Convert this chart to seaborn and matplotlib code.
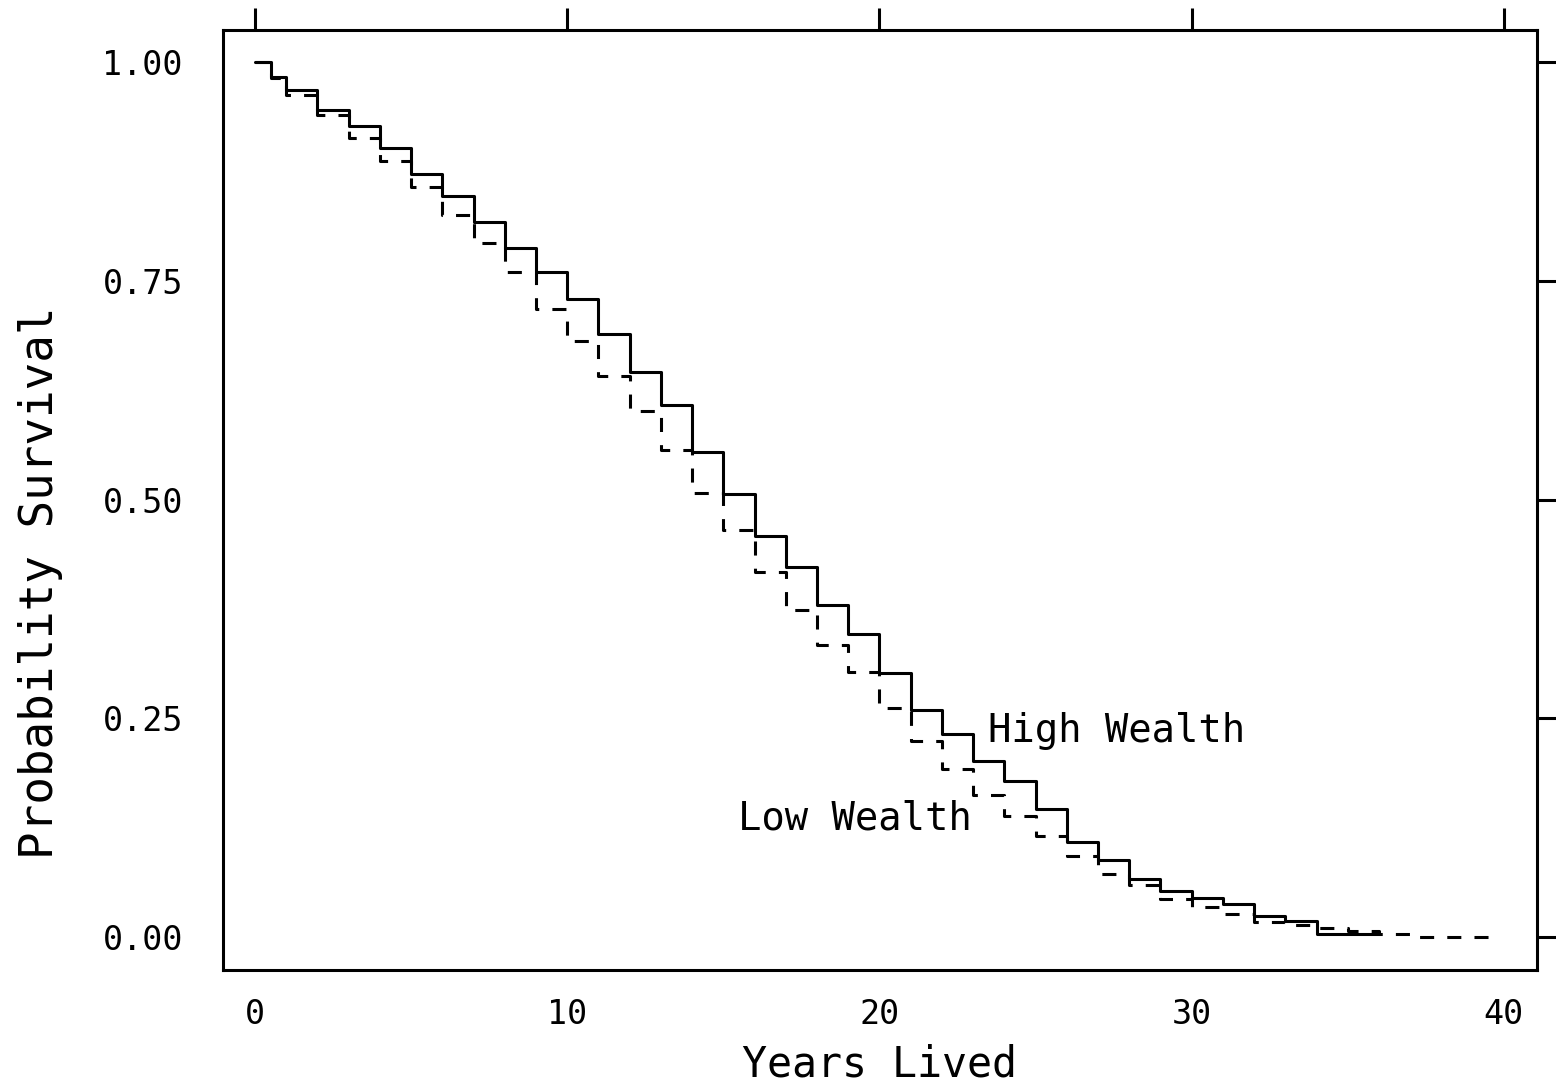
import numpy as np
import pandas as pd
import matplotlib
matplotlib.use("Agg")
import matplotlib.pyplot as plt
import seaborn as sns

# survival step values (value holds from t until the next t)
high_years = [0, 0.5] + list(range(1, 35)) + [36]
high_surv = [1.00, 0.983, 0.968, 0.946, 0.927, 0.902, 0.872, 0.847, 0.818, 0.788,
             0.760, 0.729, 0.690, 0.646, 0.608, 0.555, 0.507, 0.459, 0.423, 0.380,
             0.347, 0.302, 0.260, 0.232, 0.201, 0.178, 0.147, 0.109, 0.088, 0.067,
             0.053, 0.045, 0.038, 0.024, 0.018, 0.004, 0.004]

low_years = [0, 0.5] + list(range(1, 38)) + [39.7]
low_surv = [1.00, 0.982, 0.963, 0.940, 0.914, 0.887, 0.857, 0.826, 0.794, 0.760,
            0.718, 0.682, 0.641, 0.601, 0.557, 0.508, 0.465, 0.417, 0.374, 0.334,
            0.303, 0.262, 0.224, 0.192, 0.162, 0.138, 0.116, 0.093, 0.072, 0.060,
            0.044, 0.035, 0.027, 0.017, 0.014, 0.010, 0.007, 0.004, 0.0005, 0.0005]

x_ticks = [0, 10, 20, 30, 40]
y_ticks = [0.00, 0.25, 0.50, 0.75, 1.00]
y_ticklabels = ["0.00", "0.25", "0.50", "0.75", "1.00"]

high = pd.DataFrame({"years": high_years, "surv": high_surv})
low = pd.DataFrame({"years": low_years, "surv": low_surv})

sns.set_style("white")
plt.rcParams["font.family"] = ["DejaVu Sans Mono", "DejaVu Sans"]
plt.rcParams["text.color"] = "black"
plt.rcParams["axes.labelcolor"] = "black"

fig = plt.figure(figsize=(15.56, 10.87), dpi=100)
ax = fig.add_axes([0.1433, 0.1076, 0.8445, 0.8648])

sns.lineplot(data=high, x="years", y="surv", ax=ax, color="black", lw=2.2,
             drawstyle="steps-post", sort=False, estimator=None)
sns.lineplot(data=low, x="years", y="surv", ax=ax, color="black", lw=2.2,
             drawstyle="steps-post", sort=False, estimator=None,
             linestyle=(0, (4.6, 4.3)))

ax.text(23.47, 0.2235, "High Wealth", fontsize=28, ha="left", va="baseline", color="black")
ax.text(15.47, 0.1226, "Low Wealth", fontsize=28, ha="left", va="baseline", color="black")

ax.set_xlim(-1.025, 41.06)
ax.set_ylim(-0.0375, 1.0369)
ax.set_xticks(x_ticks)
ax.set_xticklabels([str(t) for t in x_ticks])
ax.set_yticks(y_ticks)
ax.set_yticklabels(y_ticklabels)

ax.tick_params(axis="both", which="major", direction="out", length=15.8, width=2.2,
               labelsize=24, color="black", labelcolor="black",
               top=True, right=True, labeltop=False, labelright=False)
ax.tick_params(axis="x", pad=4)
ax.tick_params(axis="y", pad=13)

for s in ax.spines.values():
    s.set_visible(True)
    s.set_linewidth(2.2)
    s.set_color("black")

ax.set_xlabel("Years Lived", fontsize=30)
ax.set_ylabel("Probability Survival", fontsize=33)
ax.xaxis.set_label_coords(0.5, -0.078)
ax.yaxis.set_label_coords(-0.122, 0.412)

fig.savefig("out.png", dpi=100, facecolor="white")
